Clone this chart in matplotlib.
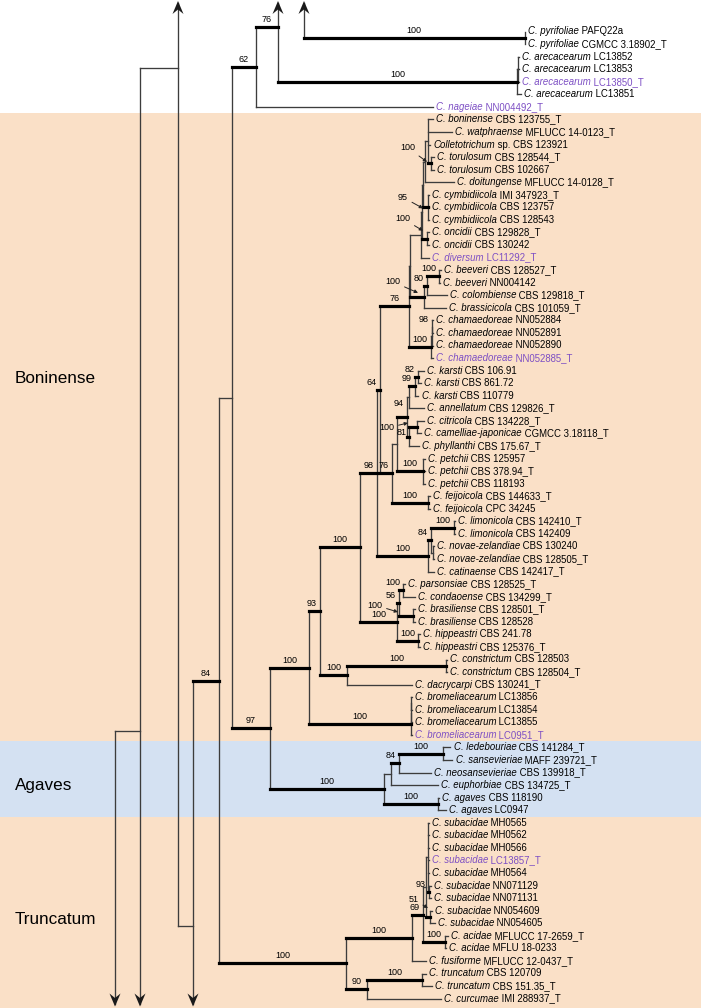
import re
import matplotlib
matplotlib.use('Agg')
import matplotlib.pyplot as plt
from matplotlib.patches import Polygon

plt.rcParams['font.family'] = ['Liberation Sans', 'DejaVu Sans']

# %% leaves (top to bottom)
species = ["C. pyrifoliae", "C. pyrifoliae",
           "C. arecacearum", "C. arecacearum", "C. arecacearum", "C. arecacearum",
           "C. nageiae",
           "C. boninense", "C. watphraense", "Colletotrichum", "C. torulosum", "C. torulosum",
           "C. doitungense", "C. cymbidiicola", "C. cymbidiicola", "C. cymbidiicola",
           "C. oncidii", "C. oncidii", "C. diversum", "C. beeveri", "C. beeveri",
           "C. colombiense", "C. brassicicola", "C. chamaedoreae", "C. chamaedoreae",
           "C. chamaedoreae", "C. chamaedoreae", "C. karsti", "C. karsti", "C. karsti",
           "C. annellatum", "C. citricola", "C. camelliae-japonicae", "C. phyllanthi",
           "C. petchii", "C. petchii", "C. petchii", "C. feijoicola", "C. feijoicola",
           "C. limonicola", "C. limonicola", "C. novae-zelandiae", "C. novae-zelandiae",
           "C. catinaense", "C. parsonsiae", "C. condaoense", "C. brasiliense",
           "C. brasiliense", "C. hippeastri", "C. hippeastri", "C. constrictum",
           "C. constrictum", "C. dacrycarpi", "C. bromeliacearum", "C. bromeliacearum",
           "C. bromeliacearum", "C. bromeliacearum",
           "C. ledebouriae", "C. sansevieriae", "C. neosansevieriae", "C. euphorbiae",
           "C. agaves", "C. agaves",
           "C. subacidae", "C. subacidae", "C. subacidae", "C. subacidae", "C. subacidae",
           "C. subacidae", "C. subacidae", "C. subacidae", "C. subacidae",
           "C. acidae", "C. acidae", "C. fusiforme", "C. truncatum", "C. truncatum",
           "C. curcumae"]
strains = ["PAFQ22a", "CGMCC 3.18902_T",
           "LC13852", "LC13853", "LC13850_T", "LC13851",
           "NN004492_T",
           "CBS 123755_T", "MFLUCC 14-0123_T", "sp. CBS 123921", "CBS 128544_T", "CBS 102667",
           "MFLUCC 14-0128_T", "IMI 347923_T", "CBS 123757", "CBS 128543",
           "CBS 129828_T", "CBS 130242", "LC11292_T", "CBS 128527_T", "NN004142",
           "CBS 129818_T", "CBS 101059_T", "NN052884", "NN052891",
           "NN052890", "NN052885_T", "CBS 106.91", "CBS 861.72", "CBS 110779",
           "CBS 129826_T", "CBS 134228_T", "CGMCC 3.18118_T", "CBS 175.67_T",
           "CBS 125957", "CBS 378.94_T", "CBS 118193", "CBS 144633_T", "CPC 34245",
           "CBS 142410_T", "CBS 142409", "CBS 130240", "CBS 128505_T",
           "CBS 142417_T", "CBS 128525_T", "CBS 134299_T", "CBS 128501_T",
           "CBS 128528", "CBS 241.78", "CBS 125376_T", "CBS 128503",
           "CBS 128504_T", "CBS 130241_T", "LC13856", "LC13854",
           "LC13855", "LC0951_T",
           "CBS 141284_T", "MAFF 239721_T", "CBS 139918_T", "CBS 134725_T",
           "CBS 118190", "LC0947",
           "MH0565", "MH0562", "MH0566", "LC13857_T", "MH0564",
           "NN071129", "NN071131", "NN054609", "NN054605",
           "MFLUCC 17-2659_T", "MFLU 18-0233", "MFLUCC 12-0437_T", "CBS 120709", "CBS 151.35_T",
           "IMI 288937_T"]
new_strains = ["LC13850_T", "NN004492_T", "LC11292_T", "NN052885_T", "LC0951_T", "LC13857_T"]

# %% clades (shaded bands)
clade_names = ["Boninense", "Agaves", "Truncatum"]
clade_first = [7, 57, 63]
clade_last = [56, 62, 77]
clade_label_row = [27.6, 60.0, 70.7]
clade_colors = ["#fae0c7", "#d4e1f2", "#fae0c7"]

# %% tree: '*' = next leaf, number after ':' = depth of node, '@row' = clade drawn elsewhere (arrow)
pyr = "(@-3.5,(*:525,*:525)100:524.5):304"
are = "((*:518.5,*:518.5,*:518.5):517.5,*:520.5)100:517"
top = f"((@-4.71,{are})76:278,*:433)62:256"

W1 = "(*:433,*:451.5,*:430,(*:433.5,*:433.5)100~tor:431):428"
W = f"({W1},*:453.5):425"
cym = "(*:428.5,*:428.5,*:428.5)95~cym:428"
Y1 = f"({W},{cym}):422.5"
onc = "(*:428.5,*:428.5)100~onc:427"
Z = f"({Y1},{onc}):422"
U = f"({Z},*:428.5):421"
bee = "(*:440.5,*:439.5)100:439"
N80 = f"({bee},*:446.5)80:427"
B = f"({N80},*:445.5)100~B:424"
X = f"({U},{B}):410"
cha = "(((*:432.5,*:432.5)98:432,*:432.5):431.5,*:432.5)100:431"
N409 = f"({X},{cha})76:409"

N82 = "(*:423.5,*:420.5)82:418"
N99 = f"({N82},*:418)99:415"
KA = f"({N99},*:423.5):409"
N81 = "(*:423.5,*:420.5)81~c81:417"
CCP = f"({N81},*:418.5)100~ccp:409"
N94 = f"({KA},{CCP})94~n94:407"
pet = "(*:424.5,*:424.5,*:424.5)100:423"
K2 = f"({N94},{pet}):397"
fei = "(*:429.5,*:429.5)100:428"
K = f"({K2},{fei})76:392"
N380 = f"({N409},{K})64:380"

lmc = "(*:454.5,*:454.5)100:454"
nov = "(*:433.5,*:433.5):433"
N84b = f"({lmc},{nov})84:431"
LIM = f"({N84b},*:433.5)100:428"
N377 = f"({N380},{LIM})98:377"

PC = "(*:404.5,*:414.5)100:403"
BRA = "(*:414.5,*:414.5)100~bra:413"
PU = f"({PC},{BRA})56:399"
HIP = "(*:419.5,*:419.5)100:418"
P = f"({PU},{HIP})100:397"
N360 = f"({N377},{P})100:360"
CON = "(*:446.5,*:446.5)100:446"
N347 = f"({CON},*:411.5)100:347"
N320 = f"({N360},{N347})93:320"
BROM = "(((*:411.5,*:411.5):411.3,*:411.5):411.2,*:411.5)100:411"
N309 = f"({N320},{BROM})100:309"

LS = "(*:450,*:452)100:443"
N84c = f"({LS},*:430.5)84:399"
AU = f"({N84c},*:437.5):391"
AGA = "(*:438.5,*:445.5)100:438"
AGV = f"({AU},{AGA})100:384"
N270 = f"({N309},{AGV})97:270"
N232 = f"({top},{N270}):232"

T93 = "(*:430.5,*:430.5)93:429"
sub = f"(*:428.5,*:428.5,*:428.5,*:428.5,*:428.5,{T93}):428"
N51 = "(*:431.5,*:434.5)51~n51:430"
G = f"({sub},{N51}):426"
ACI = "(*:447.5,*:445.5)100:445"
S = f"({G},{ACI})69:423"
TU = f"({S},*:425.5)100:412"
TRU = "(*:425.5,*:431.5)100:422"
N90 = f"({TRU},*:440.5)90:367"
TRUNC = f"({TU},{N90})100:346"
N219 = f"({N232},{TRUNC})84:219"
N193 = f"({N219},@90.7):193"
N178 = f"(@-65.4,{N193}):178"
N140 = f"({N178},@108.5):140"
main = f"({N140},@120):115"

# support labels placed by hand (text offset, arrow tip offset from node)
label_pos = {'tor': (-23, -15.5, -4, -1.5), 'cym': (-25, -10, -5, 1),
             'onc': (-24, -20, -4, -8), 'B': (-31, -15, -6, -4),
             'ccp': (-22, -8.6, -1, -13.6), 'bra': (-38, -10.5, -15, -3.5),
             'n51': (-16, -17, -2, -9), 'c81': (-15, 5.5, None, None),
             'n94': (-8, -13, None, None)}

y0, dy = 31.5, 12.56
W_PX, H_PX = 701, 1008


def parse(text, counter):
    toks = re.findall(r"[(),*]|@-?[\d.]+|:-?[\d.]+|[^(),*:@]+", text)
    pos = 0

    def node():
        nonlocal pos
        t = toks[pos]
        n = {'kids': [], 'label': '', 'leaf': None, 'off': None, 'x': None}
        if t == '(':
            pos += 1
            n['kids'].append(node())
            while toks[pos] == ',':
                pos += 1
                n['kids'].append(node())
            pos += 1
            if pos < len(toks) and toks[pos][0] not in ':,)':
                n['label'] = toks[pos]
                pos += 1
        elif t == '*':
            pos += 1
            n['leaf'] = counter[0]
            counter[0] += 1
        else:
            pos += 1
            n['off'] = float(t[1:])
            return n
        if pos < len(toks) and toks[pos].startswith(':'):
            n['x'] = float(toks[pos][1:])
            pos += 1
        return n
    return node()


def place(n):
    if n['leaf'] is not None:
        n['y'] = y0 + dy * n['leaf']
    elif n['off'] is not None:
        n['y'] = y0 + dy * n['off']
    else:
        for k in n['kids']:
            place(k)
        n['y'] = (n['kids'][0]['y'] + n['kids'][-1]['y']) / 2


fig = plt.figure(figsize=(7.01, 10.08), dpi=100)
ax = fig.add_axes([0, 0, 1, 1])
ax.set_xlim(0, W_PX)
ax.set_ylim(H_PX, 0)
ax.axis('off')

# bands
for name, a, b, c, r in zip(clade_names, clade_first, clade_last, clade_colors, clade_label_row):
    ya = y0 + dy * (a - 0.5)
    yb = H_PX if b == len(species) - 1 else y0 + dy * (b + 0.5)
    ax.axhspan(ya, yb, color=c, lw=0, zorder=0)
    ax.text(15, y0 + dy * r, name, fontsize=12.3, ha='left', va='center')

thin = dict(color='#3c3c3c', lw=0.95, solid_capstyle='projecting', zorder=2)
thick = dict(color='black', lw=2.3, solid_capstyle='projecting', zorder=3)
TOP, BOT = 3, 1004


def arrowhead(x, up):
    tip, s = (1.0, 1) if up else (1006.5, -1)
    pts = [(x, tip), (x - 5.5, tip + 13 * s), (x, tip + 8.5 * s), (x + 5.5, tip + 13 * s)]
    ax.add_patch(Polygon(pts, closed=True, color='#1a1a1a', lw=0, zorder=4))


def leaf_text(i, x, y):
    col = '#7d4fc4' if strains[i] in new_strains else 'black'
    t = ax.text(x, y, species[i], fontsize=6.9, style='italic', color=col,
                ha='left', va='center')
    ax.annotate(' ' + strains[i], xy=(1, 0.5), xycoords=t, fontsize=6.9, color=col,
                ha='left', va='center')


def support(n, px):
    lab = n['label']
    val, key = (lab.split('~') + [None])[:2]
    if key in label_pos:
        tx, ty, ax_, ay_ = label_pos[key]
        if ax_ is None:
            ax.text(n['x'] + tx, n['y'] + ty, val, fontsize=6.5, ha='center', va='center')
        else:
            ax.annotate(val, xy=(n['x'] + ax_, n['y'] + ay_), xytext=(n['x'] + tx, n['y'] + ty),
                        fontsize=6.5, ha='center', va='center',
                        arrowprops=dict(arrowstyle='-|>', lw=0.7, color='#222222',
                                        mutation_scale=5, shrinkA=1, shrinkB=0))
    elif n['x'] - px >= 15:
        ax.text((n['x'] + px) / 2, n['y'] - 3, val, fontsize=6.5, ha='center', va='bottom')
    else:
        ax.text(n['x'] - 3, n['y'] - 3, val, fontsize=6.5, ha='right', va='bottom')


def draw(n):
    ys = [k['y'] for k in n['kids']]
    lo, hi = max(min(ys), TOP), min(max(ys), BOT)
    ax.plot([n['x'], n['x']], [lo, hi], **thin)
    for k in n['kids']:
        if k['off'] is not None:
            arrowhead(n['x'], k['y'] < 0)
            continue
        style = thick if k['label'] else thin
        ax.plot([n['x'], k['x']], [k['y'], k['y']], **style)
        if k['leaf'] is not None:
            leaf_text(k['leaf'], k['x'] + 3.5, k['y'])
        else:
            if k['label']:
                support(k, n['x'])
            draw(k)


counter = [0]
for s in [pyr, main]:
    tree = parse(s, counter)
    place(tree)
    draw(tree)

fig.savefig('out.png', dpi=100)
